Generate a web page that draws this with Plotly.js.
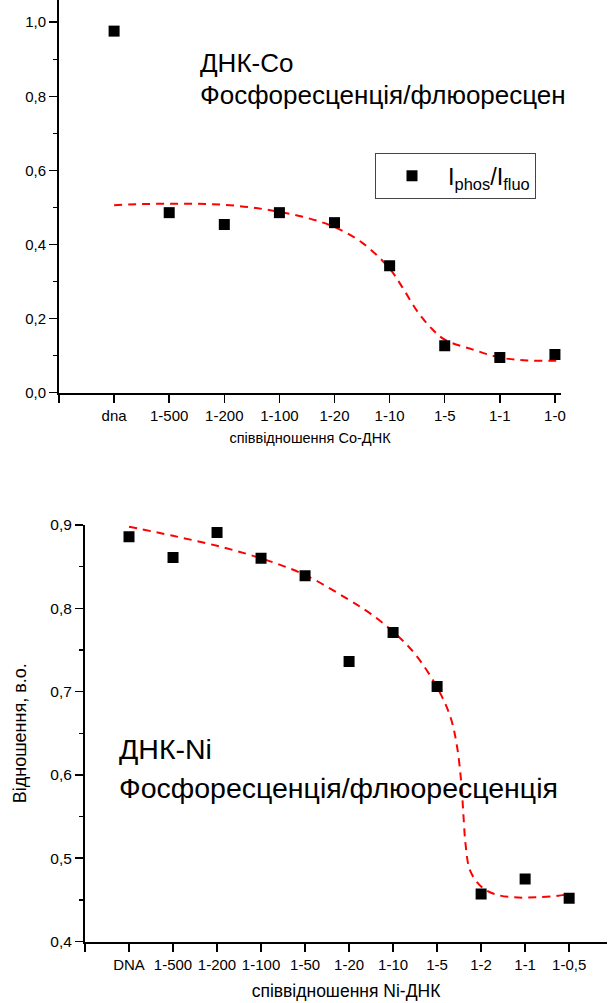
<!DOCTYPE html>
<html>
<head>
<meta charset="utf-8">
<script src="https://cdn.plot.ly/plotly-3.0.1.min.js"></script>
<style>html,body{margin:0;padding:0;background:#fff;}#chart{width:609px;height:1003px;}</style>
</head>
<body>
<div id="chart"></div>
<script>
// ---- Top chart (Co-DNA) ----
const coCategories = ["dna", "1-500", "1-200", "1-100", "1-20", "1-10", "1-5", "1-1", "1-0"];
const coIndex = [0, 1, 2, 3, 4, 5, 6, 7, 8];
const coRatio = [0.976, 0.486, 0.454, 0.486, 0.459, 0.343, 0.127, 0.095, 0.103];
const coFitX = [0, 0.5, 1, 1.5, 2, 2.5, 3, 3.5, 4, 4.5, 5, 5.25, 5.5, 5.75, 6, 6.5, 7, 7.5, 8, 8.1];
const coFitY = [0.506, 0.509, 0.510, 0.510, 0.507, 0.500, 0.488, 0.472, 0.447, 0.405, 0.335, 0.280, 0.220, 0.175, 0.143, 0.117, 0.095, 0.087, 0.086, 0.086];

// ---- Bottom chart (Ni-DNA) ----
const niCategories = ["DNA", "1-500", "1-200", "1-100", "1-50", "1-20", "1-10", "1-5", "1-2", "1-1", "1-0,5"];
const niIndex = [0, 1, 2, 3, 4, 5, 6, 7, 8, 9, 10];
const niRatio = [0.886, 0.861, 0.891, 0.860, 0.839, 0.736, 0.771, 0.706, 0.457, 0.475, 0.452];
const niFitX = [0, 1, 2, 3, 4, 5, 5.5, 6, 6.5, 7, 7.3, 7.45, 7.55, 7.6, 7.65, 7.75, 8, 8.3, 8.75, 9.25, 9.75, 10];
const niFitY = [0.898, 0.887, 0.875, 0.860, 0.840, 0.810, 0.793, 0.772, 0.745, 0.705, 0.670, 0.635, 0.590, 0.550, 0.515, 0.485, 0.466, 0.457, 0.453, 0.453, 0.455, 0.457];

const FONT = "Liberation Sans, Arial, sans-serif";
const W = 609, H = 1003;
const px = x => x / W;
const py = y => 1 - y / H;

const markerStyle = {symbol: "square", size: 11, color: "#000"};
const fitLine = {color: "#ff0000", width: 2, dash: "8px,6px", shape: "spline"};

const traces = [
  {x: coFitX, y: coFitY, mode: "lines", line: fitLine, showlegend: false, xaxis: "x", yaxis: "y", hoverinfo: "skip"},
  {x: coIndex, y: coRatio, mode: "markers", marker: markerStyle, name: "I<sub>phos</sub>/I<sub>fluo</sub>", xaxis: "x", yaxis: "y"},
  {x: niFitX, y: niFitY, mode: "lines", line: fitLine, showlegend: false, xaxis: "x2", yaxis: "y2", hoverinfo: "skip"},
  {x: niIndex, y: niRatio, mode: "markers", marker: markerStyle, showlegend: false, xaxis: "x2", yaxis: "y2"}
];

const axisCommon = {
  showgrid: false, zeroline: false, showline: true, linecolor: "#000", linewidth: 2,
  ticks: "outside", ticklen: 8, tickwidth: 1.5, tickcolor: "#000",
  tickfont: {family: FONT, size: 15, color: "#000"}
};
const originTick = {tickmode: "array", tickvals: [-1], ticks: "outside", ticklen: 8, tickwidth: 1.5, tickcolor: "#000", showgrid: false};

const layout = {
  width: W, height: H,
  margin: {l: 0, r: 0, t: 0, b: 0},
  paper_bgcolor: "#fff", plot_bgcolor: "rgba(0,0,0,0)",
  separators: ", ",
  font: {family: FONT, color: "#000"},
  showlegend: true,
  legend: {
    x: px(375), y: py(153), xanchor: "left", yanchor: "top",
    bordercolor: "#444", borderwidth: 1, bgcolor: "#fff",
    font: {family: FONT, size: 23.5, color: "#000"},
    itemwidth: 62
  },
  xaxis: Object.assign({}, axisCommon, {
    domain: [px(59), px(561)], anchor: "y", range: [-1, 8.11],
    tickmode: "array", tickvals: coIndex, ticktext: coCategories,
    minor: originTick,
    title: {text: "співвідношення Co-ДНК", standoff: 10, font: {family: FONT, size: 14.5, color: "#000"}}
  }),
  yaxis: Object.assign({}, axisCommon, {
    domain: [py(392.7), 1], anchor: "x", range: [0, 1.06],
    tickmode: "linear", tick0: 0, dtick: 0.2, tickformat: ".1f",
    minor: {ticks: "outside", ticklen: 4, tickwidth: 1.5, tickcolor: "#000", dtick: 0.1, tick0: 0, showgrid: false}
  }),
  xaxis2: Object.assign({}, axisCommon, {
    domain: [px(85), px(607)], anchor: "y2", range: [-1, 10.86],
    tickmode: "array", tickvals: niIndex, ticktext: niCategories,
    minor: originTick,
    title: {text: "співвідношення Ni-ДНК", standoff: 13, font: {family: FONT, size: 17.5, color: "#000"}}
  }),
  yaxis2: Object.assign({}, axisCommon, {
    domain: [py(941.5), py(525)], anchor: "x2", range: [0.4, 0.9],
    tickmode: "linear", tick0: 0.4, dtick: 0.1, tickformat: ".1f",
    tickfont: {family: FONT, size: 15.5, color: "#000"},
    minor: {ticks: "outside", ticklen: 4, tickwidth: 1.5, tickcolor: "#000", dtick: 0.05, tick0: 0.4, showgrid: false},
    title: {text: "Відношення, в.о.", standoff: 19, font: {family: FONT, size: 18, color: "#000"}}
  }),
  annotations: [
    {text: "ДНК-Co", xref: "paper", yref: "paper", x: px(198), y: py(63), xanchor: "left", yanchor: "middle", showarrow: false, font: {family: FONT, size: 26, color: "#000"}},
    {text: "Фосфоресценція/флюоресцен", xref: "paper", yref: "paper", x: px(198), y: py(95), xanchor: "left", yanchor: "middle", showarrow: false, font: {family: FONT, size: 26, color: "#000"}},
    {text: "ДНК-Ni", xref: "paper", yref: "paper", x: px(117), y: py(749), xanchor: "left", yanchor: "middle", showarrow: false, font: {family: FONT, size: 28.5, color: "#000"}},
    {text: "Фосфоресценція/флюоресценція", xref: "paper", yref: "paper", x: px(117), y: py(788), xanchor: "left", yanchor: "middle", showarrow: false, font: {family: FONT, size: 28.5, color: "#000"}}
  ]
};

Plotly.newPlot("chart", traces, layout, {displayModeBar: false, staticPlot: true});
</script>
</body>
</html>
